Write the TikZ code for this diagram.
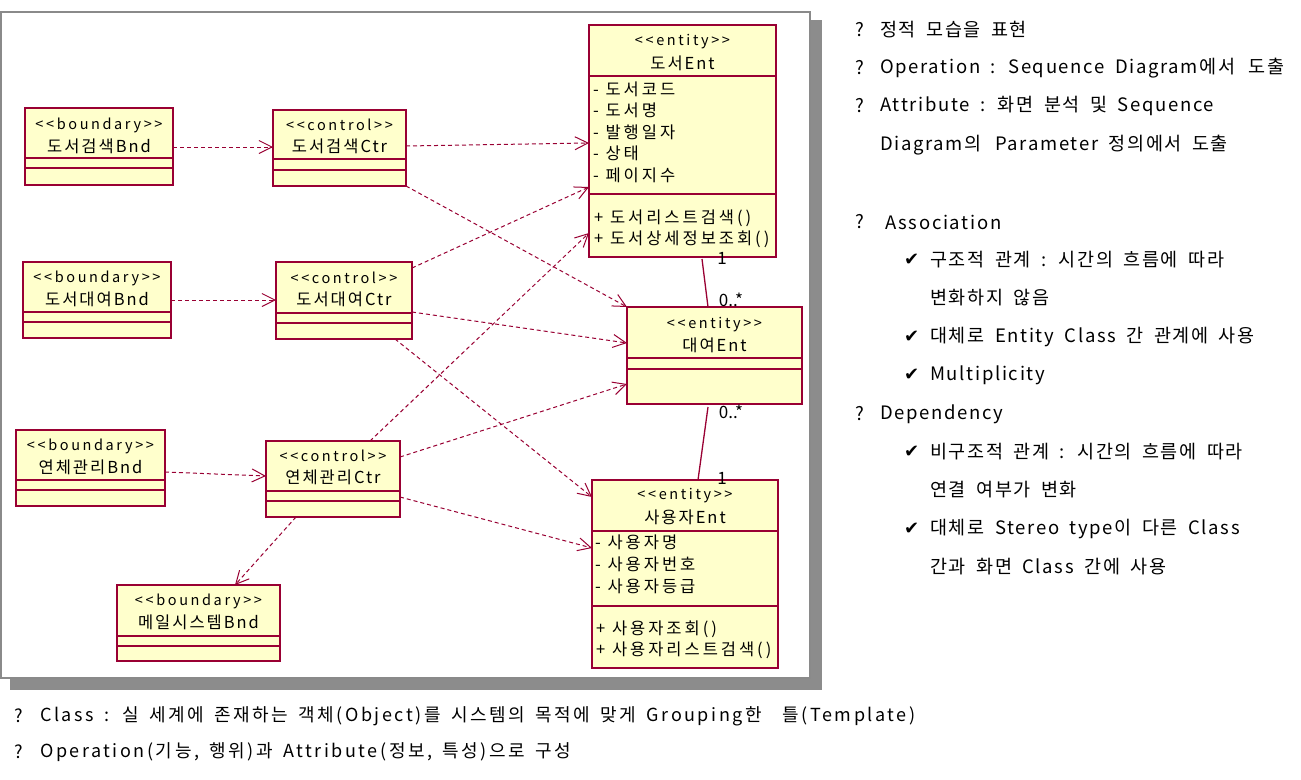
\documentclass[tikz,border=0pt]{standalone}
\usepackage{fontspec}
\setmainfont{Noto Sans CJK KR}
\newfontfamily\djv{DejaVu Sans}
\newfontfamily\fst{Noto Sans CJK KR}[LetterSpace=18]
\newfontfamily\fnm{Noto Sans CJK KR}[LetterSpace=12]
\newfontfamily\fat{Noto Sans CJK KR}[LetterSpace=18]
\newfontfamily\frt{Noto Sans CJK KR}[LetterSpace=9,WordSpace=1.8]
\newfontfamily\fbt{Noto Sans CJK KR}[LetterSpace=14,WordSpace=1.6]
\usetikzlibrary{arrows.meta,calc}
\definecolor{umlred}{HTML}{990033}
\definecolor{umlfill}{HTML}{FFFFCC}
\definecolor{framegray}{HTML}{8A8A8A}
\definecolor{shadowgray}{HTML}{8C8C8C}
\newcommand\hsep[3]{\draw[divl] (#1,#3) -- (#2,#3);}
\newcommand\stb{<{}<boundary>{}>}
\newcommand\stc{<{}<control>{}>}
\newcommand\ste{<{}<entity>{}>}
\begin{document}
\begin{tikzpicture}[x=1pt,y=-1pt,
  cls/.style={draw=umlred, fill=umlfill, line width=1.6pt, inner sep=0pt, outer sep=0pt, anchor=north west},
  divl/.style={draw=umlred, line width=1.2pt},
  st/.style={inner sep=0pt, font=\fst\fontsize{14.5}{14.5}\selectfont},
  nm/.style={inner sep=0pt, font=\fnm\fontsize{16.5}{16.5}\selectfont},
  attr/.style={inner sep=0pt, anchor=west, font=\fat\fontsize{16.5}{16.5}\selectfont},
  dep/.style={draw=umlred, line width=1pt, dash pattern=on 4pt off 3pt, -{Straight Barb[length=13pt,width=13pt,line width=1pt]}},
  asc/.style={draw=umlred, line width=1.3pt},
  mul/.style={inner sep=0pt, font=\fontsize{17}{17}\selectfont},
  rt/.style={inner sep=0pt, anchor=west, font=\frt\fontsize{18.5}{18.5}\selectfont},
  ck/.style={inner sep=0pt, anchor=west, font=\djv\fontsize{18}{18}\selectfont\bfseries},
  bt/.style={inner sep=0pt, anchor=west, font=\fbt\fontsize{18}{18}\selectfont}
]
\useasboundingbox (0,0) rectangle (1301,779);
% shadow and frame
\fill[shadowgray] (811,20) rectangle (822,690);
\fill[shadowgray] (10,679) rectangle (822,690);
\draw[framegray, line width=2pt, fill=white] (1,12) rectangle (810,678);

% boundary / control boxes
\node[cls, minimum width=148pt, minimum height=77pt] (dsBnd) at (25,108) {};
\hsep{25}{173}{158}\hsep{25}{173}{168}
\node[st] (dsBndS) at (99,125) {\stb};
\node[nm] (dsBndN) at (99,146) {도서검색Bnd};

\node[cls, minimum width=133pt, minimum height=76pt] (dsCtr) at (273,110) {};
\hsep{273}{406}{159}\hsep{273}{406}{170}
\node[st] (dsCtrS) at (339.5,125) {\stc};
\node[nm] (dsCtrN) at (339.5,146) {도서검색Ctr};

\node[cls, minimum width=148pt, minimum height=76pt] (drBnd) at (23,262) {};
\hsep{23}{171}{312}\hsep{23}{171}{322}
\node[st] (drBndS) at (97,278) {\stb};
\node[nm] (drBndN) at (97,299) {도서대여Bnd};

\node[cls, minimum width=136pt, minimum height=77pt] (drCtr) at (276,262) {};
\hsep{276}{412}{313}\hsep{276}{412}{323}
\node[st] (drCtrS) at (344,278) {\stc};
\node[nm] (drCtrN) at (344,299) {도서대여Ctr};

\node[cls, minimum width=149pt, minimum height=76pt] (ycBnd) at (16,430) {};
\hsep{16}{165}{480}\hsep{16}{165}{490}
\node[st] (ycBndS) at (90.5,446) {\stb};
\node[nm] (ycBndN) at (90.5,467) {연체관리Bnd};

\node[cls, minimum width=134pt, minimum height=76pt] (ycCtr) at (266,441) {};
\hsep{266}{400}{491}\hsep{266}{400}{501}
\node[st] (ycCtrS) at (333,456) {\stc};
\node[nm] (ycCtrN) at (333,477) {연체관리Ctr};

\node[cls, minimum width=163pt, minimum height=76pt] (mBnd) at (117,585) {};
\hsep{117}{280}{636}\hsep{117}{280}{646}
\node[st] (mBndS) at (198.5,601) {\stb};
\node[nm] (mBndN) at (198.5,622) {메일시스템Bnd};

% entity boxes
\node[cls, minimum width=187pt, minimum height=232pt] (dEnt) at (589,25) {};
\hsep{589}{776}{76}\hsep{589}{776}{194}
\node[st] (dEntS) at (682.5,42) {\ste};
\node[nm] (dEntN) at (682.5,63) {도서Ent};
\node[attr] (dA1) at (593,89) {- 도서코드};
\node[attr] (dA2) at (593,110) {- 도서명};
\node[attr] (dA3) at (593,132) {- 발행일자};
\node[attr] (dA4) at (593,153) {- 상태};
\node[attr] (dA5) at (593,175) {- 페이지수};
\node[attr] (dO1) at (594,218) {+ 도서리스트검색()};
\node[attr] (dO2) at (594,239) {+ 도서상세정보조회()};

\node[cls, minimum width=175pt, minimum height=97pt] (rEnt) at (627,307) {};
\hsep{627}{802}{358}\hsep{627}{802}{369}
\node[st] (rEntS) at (714.5,325) {\ste};
\node[nm] (rEntN) at (714.5,345) {대여Ent};

\node[cls, minimum width=186pt, minimum height=188pt] (uEnt) at (592,480) {};
\hsep{592}{778}{531}\hsep{592}{778}{606}
\node[st] (uEntS) at (685,496) {\ste};
\node[nm] (uEntN) at (685,517) {사용자Ent};
\node[attr] (uA1) at (595,542) {- 사용자명};
\node[attr] (uA2) at (595,564) {- 사용자번호};
\node[attr] (uA3) at (595,586) {- 사용자등급};
\node[attr] (uO1) at (596,629) {+ 사용자조회()};
\node[attr] (uO2) at (596,650) {+ 사용자리스트검색()};

% dependencies
\draw[dep] ($(dsBnd.north east)+(0,39)$) -- ($(dsCtr.north west)+(0,37)$);
\draw[dep] ($(dsCtr.north east)+(0,36)$) -- ($(dEnt.north west)+(0,118)$);
\draw[dep] (dsCtr.south east) -- (rEnt.north west);
\draw[dep] ($(drBnd.north east)+(0,38)$) -- ($(drCtr.north west)+(0,38)$);
\draw[dep] ($(drCtr.north east)+(0,6)$) -- ($(dEnt.south west)+(0,-70)$);
\draw[dep] ($(drCtr.north east)+(0,50)$) -- ($(rEnt.north west)+(0,36)$);
\draw[dep] ($(drCtr.south east)+(-17,0)$) -- ($(uEnt.north west)+(0,17)$);
\draw[dep] ($(ycBnd.north east)+(0,42)$) -- ($(ycCtr.north west)+(0,35)$);
\draw[dep] ($(ycCtr.north west)+(104,0)$) -- ($(dEnt.south west)+(0,-24)$);
\draw[dep] ($(ycCtr.north east)+(0,16)$) -- ($(rEnt.south west)+(0,-20)$);
\draw[dep] ($(ycCtr.north east)+(0,56)$) -- ($(uEnt.north west)+(0,68)$);
\draw[dep] ($(ycCtr.south west)+(30,0)$) -- ($(mBnd.north west)+(118,0)$);

% associations
\draw[asc] ($(dEnt.south west)+(113,2)$) -- ($(rEnt.north west)+(81,0)$);
\draw[asc] ($(rEnt.south west)+(81,3)$) -- ($(uEnt.north west)+(106,0)$);
\node[mul] (m1) at (722,258) {1};
\node[mul] (m2) at (731,300) {0..*};
\node[mul] (m3) at (731,412) {0..*};
\node[mul] (m4) at (722,478) {1};

% right text
\node[rt] (q1) at (855,30) {?};
\node[rt] (r1) at (880,30) {정적 모습을 표현};
\node[rt] (q2) at (855,68) {?};
\node[rt] (r2) at (880,68) {Operation : Sequence Diagram에서 \,도출};
\node[rt] (q3) at (855,106) {?};
\node[rt] (r3) at (880,106) {Attribute : 화면 분석 및 Sequence};
\node[rt] (r4) at (880,145) {Diagram의 \,Parameter 정의에서 도출};
\node[rt] (q5) at (855,222) {?};
\node[rt] (r5) at (885,222) {Association};
\node[ck] (c6) at (904,260) {✔};
\node[rt] (r6) at (930,260) {구조적 관계 : 시간의 흐름에 따라};
\node[rt] (r7) at (930,298) {변화하지 않음};
\node[ck] (c8) at (904,337) {✔};
\node[rt] (r8) at (930,337) {대체로 Entity Class 간 관계에 사용};
\node[ck] (c9) at (904,375) {✔};
\node[rt] (r9) at (930,375) {Multiplicity};
\node[rt] (q10) at (855,414) {?};
\node[rt] (r10) at (880,414) {Dependency};
\node[ck] (c11) at (904,452) {✔};
\node[rt] (r11) at (930,452) {비구조적 관계 : 시간의 흐름에 따라};
\node[rt] (r12) at (930,490) {연결 여부가 변화};
\node[ck] (c13) at (904,529) {✔};
\node[rt] (r13) at (930,529) {대체로 Stereo type이 다른 Class};
\node[rt] (r14) at (930,567) {간과 화면 Class 간에 사용};

% bottom text
\node[bt] (qb1) at (14,716) {?};
\node[bt] (b1) at (40,716) {Class : 실 세계에 존재하는 객체(Object)를 시스템의 목적에 맞게 Grouping한 \ 틀(Template)};
\node[bt] (qb2) at (14,752) {?};
\node[bt] (b2) at (40,752) {Operation(기능, 행위)과 Attribute(정보, 특성)으로 구성};
\end{tikzpicture}
\end{document}
